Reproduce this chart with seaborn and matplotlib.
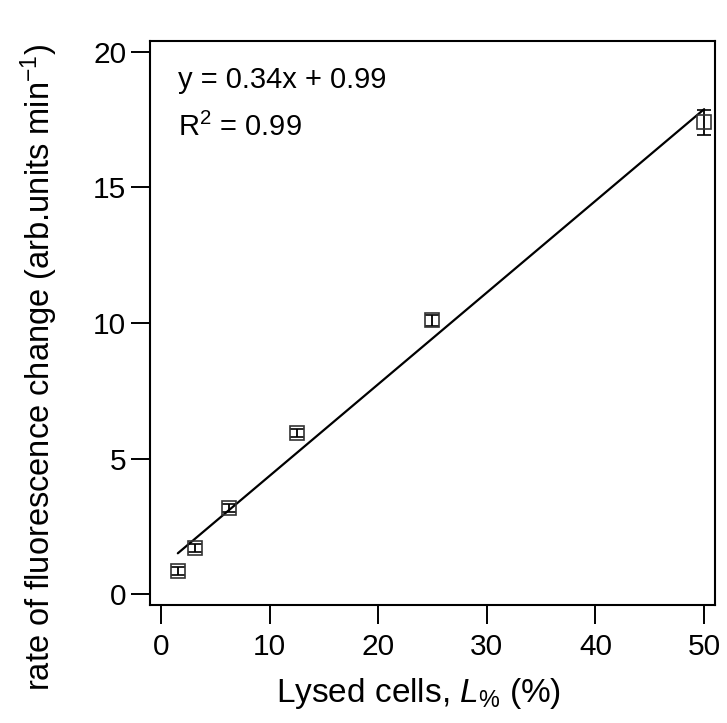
import matplotlib
matplotlib.use("Agg")
import numpy as np
import pandas as pd
import matplotlib.pyplot as plt
import seaborn as sns

# Data
lysed_pct = [1.5625, 3.125, 6.25, 12.5, 25, 50]
rate = [0.85, 1.70, 3.17, 5.94, 10.1, 17.4]
rate_err = [0.15, 0.15, 0.15, 0.15, 0.2, 0.45]
fit_text = ["y = 0.34x + 0.99", "R$^2$ = 0.99"]

df = pd.DataFrame({"Lysed": lysed_pct, "Rate": rate, "Err": rate_err})

sns.set_style("ticks")
plt.rcParams["font.family"] = ["Liberation Sans", "DejaVu Sans"]
plt.rcParams["mathtext.fontset"] = "custom"
plt.rcParams["mathtext.rm"] = "Liberation Sans"
plt.rcParams["mathtext.it"] = "Liberation Sans:italic"
plt.rcParams["text.color"] = "black"
plt.rcParams["axes.labelcolor"] = "black"

fig = plt.figure(figsize=(7.27, 7.23), dpi=100)
ax = fig.add_axes([0.2063, 0.1632, 0.7772, 0.7801])

# Linear fit line
sns.regplot(data=df, x="Lysed", y="Rate", ax=ax, scatter=False, ci=None,
            truncate=True, color="black", line_kws={"linewidth": 1.6})

# Points with error bars
ax.errorbar(df["Lysed"], df["Rate"], yerr=df["Err"], fmt="s", mfc="none",
            mec="#333333", mew=1.2, ms=10.5, ecolor="black", elinewidth=1.3,
            capsize=5, capthick=1.6, zorder=3)

ax.text(0.05, 0.93, fit_text[0], transform=ax.transAxes, fontsize=21,
        va="center", ha="left")
ax.text(0.05, 0.847, fit_text[1], transform=ax.transAxes, fontsize=21,
        va="center", ha="left")

ax.set_xlim(-1, 51)
ax.set_ylim(-0.4, 20.4)
ax.set_xticks([0, 10, 20, 30, 40, 50])
ax.set_yticks([0, 5, 10, 15, 20])
ax.set_xlabel("Lysed cells, $\\mathit{L}_{\\%}$ (%)", fontsize=24)
ax.set_ylabel("rate of fluorescence change (arb.units min$^{-1}$)", fontsize=23.5)
ax.xaxis.set_label_coords(0.476, -0.125)
ax.yaxis.set_label_coords(-0.16, 0.422)

for s in ax.spines.values():
    s.set_visible(True)
    s.set_linewidth(1.5)
    s.set_color("black")
ax.tick_params(direction="out", length=14, width=1.4, labelsize=21.5, pad=3, colors="black")
ax.tick_params(axis="x", pad=6)

fig.savefig("out.png", dpi=100)
